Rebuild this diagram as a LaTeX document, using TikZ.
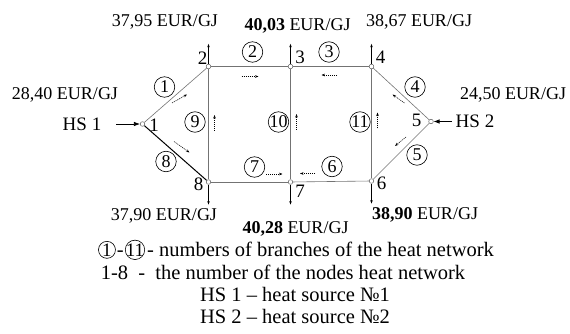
\documentclass[tikz,border=0pt]{standalone}
\usepackage{fontspec}
\setmainfont{Liberation Serif}
\usetikzlibrary{positioning,arrows.meta}

\tikzset{
  pipe/.style={draw=black!55,line width=0.6pt},
  hub/.style={circle,draw=black!60,fill=white,inner sep=0pt,minimum size=4.6pt,line width=0.5pt},
  branch/.style={circle,draw,inner sep=-0.5pt,minimum size=20.5pt,line width=0.6pt,font=\fontsize{18}{18}\selectfont},
  keybranch/.style={circle,draw,inner sep=-1pt,minimum size=17pt,line width=0.6pt,font=\fontsize{19}{19}\selectfont},
  flow/.style={line width=0.5pt,dash pattern=on 1.2pt off 0.8pt,-{Stealth[length=3.5pt,width=2.6pt]}},
  tap/.style={line width=0.5pt,-{Stealth[length=3.5pt,width=2.6pt]}},
  feed/.style={line width=0.7pt,-{Latex[length=6pt,width=4.5pt]}},
  price/.style={font=\fontsize{18}{18}\selectfont,inner sep=0pt},
  num/.style={font=\fontsize{19}{19}\selectfont,inner sep=0pt},
  legend/.style={font=\fontsize{20.5}{20.5}\selectfont,inner sep=0pt}
}

\begin{document}
\begin{tikzpicture}[x=1pt,y=-1pt]
\useasboundingbox (0,0) rectangle (570,334);
% nodes of the network
\node[hub] (n1) at (142.5,124) {};
\node[hub] (n2) at (208.5,66.5) {};
\node[hub] (n3) at (290.5,66.5) {};
\node[hub] (n4) at (371.5,66.5) {};
\node[hub] (n5) at (431,121.5) {};
\node[hub] (n6) at (371.5,181) {};
\node[hub] (n7) at (290.5,182) {};
\node[hub] (n8) at (208.5,182) {};
% branches
\draw[pipe] (n1) -- (n2);
\draw[pipe] (n2) -- (n3);
\draw[pipe] (n3) -- (n4);
\draw[pipe] (n4) -- (n5);
\draw[pipe] (n5) -- (n6);
\draw[pipe] (n6) -- (n7);
\draw[pipe] (n7) -- (n8);
\draw[line width=1pt] (n1) -- (n8);
\draw[pipe] (n2) -- (n8);
\draw[pipe] (n3) -- (n7);
\draw[pipe] (n4) -- (n6);
% consumers
\draw[tap] (n2.north) -- ++(0,-20);
\draw[tap] (n3.north) -- ++(0,-20);
\draw[tap] (n4.north) -- ++(0,-20);
\draw[tap] (n8.south) -- ++(0,20);
\draw[tap] (n7.south) -- ++(0,20);
\draw[tap] (n6.south) -- ++(0,20);
% sources
\node[num] (hs1) at (82,124) {HS 1};
\node[num] (hs2) at (475,121.5) {HS 2};
\draw[feed] (hs1.east) ++(15,0) -- (n1);
\draw[feed] (hs2.west) ++(-4,0) -- (n5);
% node numbers
\node[num] at (154,125) {1};
\node[num] at (202.5,58.5) {2};
\node[num] at (300,57) {3};
\node[num] at (380.5,57) {4};
\node[num] at (416.5,120) {5};
\node[num] at (381.5,183.5) {6};
\node[num] at (300,191.5) {7};
\node[num] at (198.5,184) {8};
% branch numbers
\node[branch] (b1) at (164.5,87) {1};
\node[branch] (b2) at (252.5,52) {2};
\node[branch] (b3) at (329,52) {3};
\node[branch] (b4) at (415,87) {4};
\node[branch] (b5) at (417,155) {5};
\node[branch] (b6) at (332,166.5) {6};
\node[branch] (b7) at (254.5,167) {7};
\node[branch] (b8) at (166,161.5) {8};
\node[branch] (b9) at (195,122) {9};
\node[branch] (b10) at (278.5,122) {10};
\node[branch] (b11) at (360,122) {11};
% flow directions
\draw[flow] (172,103) -- (187,94.5);
\draw[flow] (241.5,76.5) -- (258.5,76.5);
\draw[flow] (337,75) -- (321.5,75);
\draw[flow] (404.5,103) -- (392.5,94.5);
\draw[flow] (406,137) -- (395,146);
\draw[flow] (315,173.5) -- (300,173.5);
\draw[flow] (266,174) -- (282.5,174);
\draw[flow] (174,141.5) -- (189.5,152.5);
\draw[flow] (214.5,131) -- (214.5,115);
\draw[flow] (296.5,130) -- (296.5,114);
\draw[flow] (377.5,128.5) -- (377.5,112.5);
% prices
\node[price] (p2) at (165,22) {37,95 EUR/GJ};
\node[price] (p3) at (297.5,25.5) {\textbf{40,03} EUR/GJ};
\node[price] (p4) at (419,22) {38,67 EUR/GJ};
\node[price] (p1) at (65,95) {28,40 EUR/GJ};
\node[price] (p5) at (513,95) {24,50 EUR/GJ};
\node[price] (p8) at (164,216) {37,90 EUR/GJ};
\node[price] (p7) at (295.5,228.5) {\textbf{40,28} EUR/GJ};
\node[price] (p6) at (425,215) {\textbf{38,90} EUR/GJ};
% legend
\node[legend,anchor=west] (leg1) at (147,249) {- numbers of branches of the heat network};
\node[keybranch,anchor=base east] (lb11) at ([xshift=-2pt]leg1.base west) {11};
\node[legend,anchor=base east] (ldash) at ([xshift=-1pt]lb11.base west) {-};
\node[keybranch,anchor=base east] (lb1) at ([xshift=-1pt]ldash.base west) {1};
\node[legend] (leg2) at (283,272) {1-8\ \ -\ \ the number of the nodes heat network};
\node[legend] (leg3) at (295,294) {HS 1 -- heat source №1};
\node[legend] (leg4) at (295,316) {HS 2 -- heat source №2};
\end{tikzpicture}
\end{document}
